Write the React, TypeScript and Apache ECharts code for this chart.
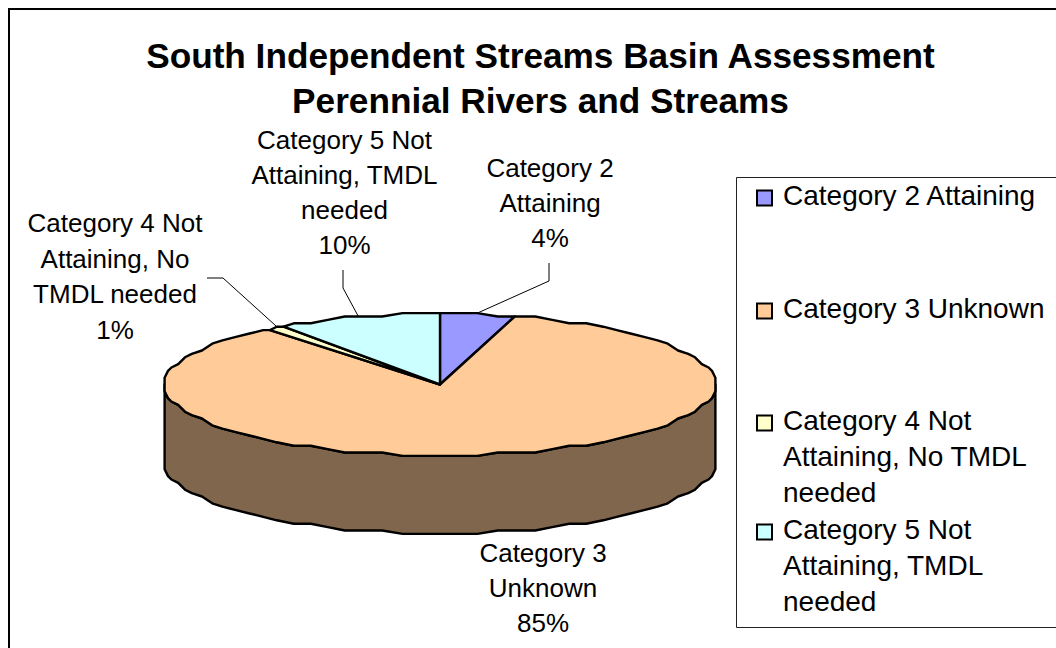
import React, { useEffect, useRef } from "react";
import * as echarts from "echarts";

const titleLines = ["South Independent Streams Basin Assessment", "Perennial Rivers and Streams"];
const categories = ["Category 2 Attaining", "Category 3 Unknown", "Category 4 Not Attaining, No TMDL needed", "Category 5 Not Attaining, TMDL needed"];
const values = [4.4, 84.9, 1.0, 9.7];
const labelLines = [
  ["Category 2", "Attaining"],
  ["Category 3", "Unknown"],
  ["Category 4 Not", "Attaining, No", "TMDL needed"],
  ["Category 5 Not", "Attaining, TMDL", "needed"],
];
const legendLines = [
  ["Category 2 Attaining"],
  ["Category 3 Unknown"],
  ["Category 4 Not", "Attaining, No TMDL", "needed"],
  ["Category 5 Not", "Attaining, TMDL", "needed"],
];

const topColors = ["#9999FF", "#FFCC99", "#FFFFCC", "#CCFFFF"];
const sideColors = ["#4D4D80", "#7F664C", "#808066", "#668080"];

// layout
const PIE = { cx: 440, cy: 384.5, rx: 275.5, ry: 71, depth: 78, step: 4, snap: 3.4 };
const labelPlace = [
  { x: 550, y: 150.5, lh: 35, leader: [[549, 281], [549, 263]] },
  { x: 543, y: 535.5, lh: 35, leader: null },
  { x: 115, y: 205, lh: 35.7, leader: [[223, 278], [207, 278]] },
  { x: 344.5, y: 122.5, lh: 35, leader: [[343, 288], [343, 270]] },
];
const legendTop = [181, 294, 368.5, 477.5];

const rim = (deg: number, dy = 0) => {
  const r = (deg * Math.PI) / 180;
  const g = PIE.snap;
  return [
    PIE.cx + Math.round((PIE.rx * Math.sin(r)) / g) * g,
    PIE.cy - Math.round((PIE.ry * Math.cos(r)) / g) * g + dy,
  ];
};
const arc = (a: number, b: number, dy = 0) => {
  const pts: number[][] = [rim(a, dy)];
  for (let t = Math.ceil(a / PIE.step) * PIE.step; t < b; t += PIE.step) if (t > a) pts.push(rim(t, dy));
  pts.push(rim(b, dy));
  return pts;
};

const total = values.reduce((s, v) => s + v, 0);
const startAngles = values.map((_, i) => (values.slice(0, i).reduce((s, v) => s + v, 0) / total) * 360);

function makeRenderItem(i: number) {
  return (_params: any, api: any) => {
    const a = startAngles[i];
    const b = a + (api.value(0) / total) * 360;
    const children: any[] = [];
    const sa = Math.max(a, 90);
    const sb = Math.min(b, 270);
    if (sb > sa) {
      const front = arc(sa, sb);
      const back = arc(sa, sb, PIE.depth).reverse();
      children.push({
        type: "polygon",
        shape: { points: [...front, ...back] },
        style: { fill: sideColors[i], stroke: "#000", lineWidth: 2.4, lineJoin: "round" },
      });
    }
    children.push({
      type: "polygon",
      shape: { points: [[PIE.cx, PIE.cy], ...arc(a, b)] },
      style: { fill: topColors[i], stroke: "#000", lineWidth: 2.4, lineJoin: "round" },
    });
    const place = labelPlace[i];
    if (place.leader) {
      children.push({
        type: "polyline",
        shape: { points: [rim((a + b) / 2), ...place.leader] },
        style: { stroke: "#000", lineWidth: 1, fill: "none" },
      });
    }
    const pct = Math.round((values[i] / total) * 100) + "%";
    [...labelLines[i], pct].forEach((t, k) => {
      children.push({
        type: "text",
        style: {
          x: place.x,
          y: place.y + place.lh * k + place.lh / 2,
          text: t,
          align: "center",
          verticalAlign: "middle",
          fontFamily: "Liberation Sans",
          fontSize: 26,
          fill: "#000",
        },
      });
    });
    return { type: "group", children };
  };
}

export default function App() {
  const ref = useRef<HTMLDivElement>(null);
  useEffect(() => {
    const chart = echarts.init(ref.current!, undefined, { renderer: "svg" });
    const LH = 36;
    const OFF = 3;
    chart.setOption({
      animation: false,
      backgroundColor: "#fff",
      title: {
        text: titleLines.join("\n"),
        left: 535.5,
        top: 28,
        textAlign: "center",
        textStyle: { fontFamily: "Liberation Sans", fontSize: 35.2, fontWeight: "bold", color: "#000", lineHeight: 45 },
      },
      legend: categories.map((name, i) => {
        const n = legendLines[i].length;
        const spacer = n > 1 ? (n - 1) * LH - 2 * OFF : 2 * OFF;
        const body = legendLines[i].map((t) => `{a|${t}}`).join("\n");
        return {
          show: true,
          left: 756,
          top: legendTop[i],
          padding: 0,
          orient: "vertical",
          selectedMode: false,
          icon: "rect",
          itemWidth: 15,
          itemHeight: 15,
          data: [{ name, itemStyle: { color: topColors[i], borderColor: "#000", borderWidth: 2 } }],
          formatter: () => (n > 1 ? `{s| }\n${body}` : `${body}\n{s| }`),
          textStyle: {
            fontFamily: "Liberation Sans",
            fontSize: 28,
            color: "#000",
            rich: {
              a: { fontFamily: "Liberation Sans", fontSize: 28, lineHeight: LH, color: "#000", padding: [0, 0, 0, 6] },
              s: { fontSize: 1, lineHeight: spacer },
            },
          },
        };
      }),
      graphic: [
        { type: "rect", z: -1, shape: { x: 9, y: 9, width: 1200, height: 800 }, style: { fill: "#fff", stroke: "#000", lineWidth: 2 } },
        { type: "rect", z: -1, shape: { x: 736.5, y: 177.5, width: 400, height: 450 }, style: { fill: "#fff", stroke: "#222", lineWidth: 1 } },
      ],
      series: categories.map((name, i) => ({
        type: "custom",
        name,
        coordinateSystem: "none",
        itemStyle: { color: topColors[i] },
        renderItem: makeRenderItem(i),
        data: [values[i]],
        silent: true,
      })),
    });
    return () => chart.dispose();
  }, []);
  return <div ref={ref} style={{ position: "fixed", left: 0, top: 0, width: 1056, height: 648 }} />;
}
